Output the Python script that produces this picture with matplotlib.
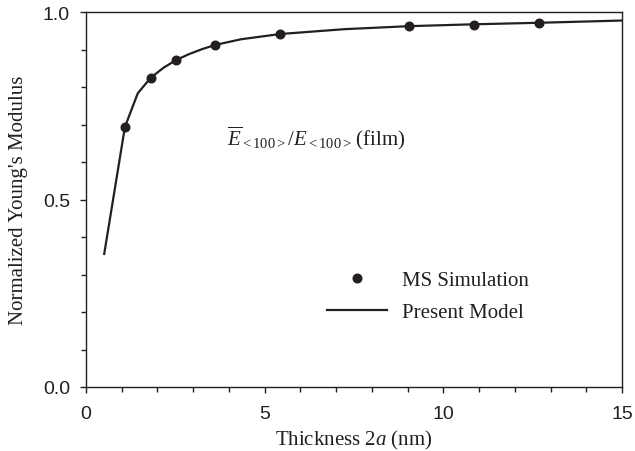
import matplotlib
matplotlib.use("Agg")
import matplotlib.pyplot as plt
from matplotlib.ticker import MultipleLocator

# MS simulation results: film thickness 2a (nm) vs normalized modulus
sim_thickness = [1.09, 1.81, 2.53, 3.62, 5.43, 9.05, 10.86, 12.67]
sim_modulus = [0.694, 0.825, 0.873, 0.913, 0.942, 0.963, 0.967, 0.971]

# Present model curve
model_thickness = [0.51, 1.09, 1.45, 1.81, 2.17, 2.53, 2.90, 3.26, 3.62,
                   4.34, 5.43, 7.24, 9.05, 10.86, 12.67, 15.0]
model_modulus = [0.355, 0.694, 0.784, 0.825, 0.852, 0.873, 0.889, 0.902, 0.913,
                 0.928, 0.942, 0.955, 0.963, 0.968, 0.972, 0.978]

x_ticks = [0, 5, 10, 15]
y_ticks = [0.0, 0.5, 1.0]

plt.rcParams["mathtext.fontset"] = "custom"
plt.rcParams["mathtext.rm"] = "Liberation Serif"
plt.rcParams["mathtext.it"] = "Liberation Serif:italic"

serif = "Liberation Serif"
sans = "Liberation Sans"

fig = plt.figure(figsize=(6.35, 4.52), dpi=100)
ax = fig.add_axes([0.1354, 0.1416, 0.8441, 0.8290])

ink = "#231f20"
ax.plot(model_thickness, model_modulus, color=ink, lw=1.6, label="Present Model")
ax.plot(sim_thickness, sim_modulus, "o", color=ink, ms=6.2, ls="none",
        label="MS Simulation")

ax.set_xlim(0, 15)
ax.set_ylim(0, 1)
ax.set_xticks(x_ticks)
ax.set_yticks(y_ticks)
ax.set_xticklabels([f"{v:g}" for v in x_ticks], fontfamily=sans, fontsize=14)
ax.set_yticklabels([f"{v:.1f}" for v in y_ticks], fontfamily=sans, fontsize=14)
ax.xaxis.set_minor_locator(MultipleLocator(1))
ax.yaxis.set_minor_locator(MultipleLocator(0.1))
ax.tick_params(which="major", direction="out", length=4.5, width=1, color=ink,
               labelcolor=ink)
ax.tick_params(axis="x", which="major", pad=8.5)
ax.tick_params(axis="y", which="major", pad=7)
ax.tick_params(which="minor", direction="out", length=3.5, width=1, color=ink)
for s in ax.spines.values():
    s.set_color(ink)
    s.set_linewidth(1)

ax.set_xlabel("Thickness 2$a$ (nm)", fontfamily=serif, fontsize=15, color=ink,
              labelpad=4)
ax.set_ylabel("Normalized Young's Modulus", fontfamily=serif, fontsize=15,
              color=ink)
ax.yaxis.set_label_coords(-0.108, 0.5)

ax.text(3.95, 0.667,
        r"$\overline{E}_{\mathrm{{<}100{>}}}/E_{\mathrm{{<}100{>}}}\,\mathrm{(film)}$",
        fontsize=15, color=ink, va="center", ha="left")

handles, labels = ax.get_legend_handles_labels()
leg = ax.legend(handles[::-1], labels[::-1], loc="upper left",
                bbox_to_anchor=(0.4496, 0.311), frameon=False,
                borderaxespad=0, borderpad=0,
                handlelength=2.9, handletextpad=0.72, labelspacing=0.6,
                prop={"family": serif, "size": 15})
for t in leg.get_texts():
    t.set_color(ink)

fig.savefig("out.png", dpi=100)
